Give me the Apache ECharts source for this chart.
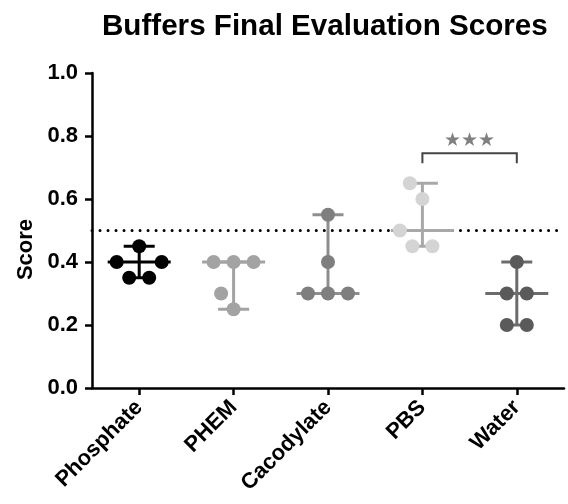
<!DOCTYPE html>
<html>
<head>
<meta charset="utf-8">
<script src="https://cdn.jsdelivr.net/npm/echarts@6/dist/echarts.min.js"></script>
<style>
html,body{margin:0;padding:0;background:#fff;}
#chart{width:568px;height:504px;}
</style>
</head>
<body>
<div id="chart"></div>
<script>
// ---------- data ----------
const categories = ['Phosphate', 'PHEM', 'Cacodylate', 'PBS', 'Water'];
const phosphate  = [0.45, 0.40, 0.40, 0.35, 0.35];
const phem       = [0.40, 0.40, 0.40, 0.30, 0.25];
const cacodylate = [0.55, 0.40, 0.30, 0.30, 0.30];
const pbs        = [0.65, 0.60, 0.50, 0.45, 0.45];
const water      = [0.40, 0.30, 0.30, 0.20, 0.20];
const yTickLabels = ['0.0', '0.2', '0.4', '0.6', '0.8', '1.0'];
const thresholdValue = 0.5;
const sigFrom = 'PBS';
const sigTo = 'Water';
const sigLevel = 0.745;
const sigLabel = '★★★';

// ---------- styles ----------
const groups = [phosphate, phem, cacodylate, pbs, water];
const dotColors  = ['#000000', '#a3a3a3', '#7f7f7f', '#d4d4d4', '#5a5a5a'];
const lineColors = ['#000000', '#a3a3a3', '#8e8e8e', '#a8a8a8', '#6c6c6c'];
const W = 568, H = 504;
const G = {left: 92, right: 4, top: 73, bottom: 116};
const plotW = W - G.left - G.right;
const plotH = H - G.top - G.bottom;
const yMin = 0, yMax = 1;
const pxPerCat = plotW / categories.length;
const pxPerVal = plotH / (yMax - yMin);
const FONT = '"Liberation Sans", Arial, sans-serif';

// ---------- simple beeswarm layout (pixel based, converted to category units) ----------
function swarm(vals) {
  const D = 20, ROW = 20;
  const placed = [];
  const rows = {};
  vals.forEach(v => { const k = v.toFixed(4); (rows[k] = rows[k] || []).push(v); });
  const keys = Object.keys(rows).sort((a, b) => parseFloat(a) - parseFloat(b));
  const ok = (xs, v) => xs.every(x => placed.every(p => {
    const dx = x - p.x, dy = (v - p.v) * pxPerVal;
    return Math.sqrt(dx * dx + dy * dy) >= D - 1e-6;
  }));
  const out = [];
  keys.forEach(k => {
    const row = rows[k], v = row[0], n = row.length;
    let xs;
    if (n === 1) {
      for (let s = 0; s < 80; s += 0.5) {
        if (ok([-s], v)) { xs = [-s]; break; }
        if (ok([s], v)) { xs = [s]; break; }
      }
    } else {
      for (let g = ROW; g < 120; g += 0.5) {
        const c = row.map((_, i) => (i - (n - 1) / 2) * g);
        if (ok(c, v)) { xs = c; break; }
      }
    }
    xs.forEach(x => { placed.push({x, v}); out.push([x / pxPerCat, v]); });
  });
  return out;
}

function median(a) {
  const s = a.slice().sort((x, y) => x - y);
  const m = Math.floor(s.length / 2);
  return s.length % 2 ? s[m] : (s[m - 1] + s[m]) / 2;
}

const series = [];

// error bars: median with range
series.push({
  type: 'custom',
  xAxisIndex: 1,
  z: 2,
  silent: true,
  data: groups.map((g, i) => [i, Math.min(...g), median(g), Math.max(...g)]),
  renderItem: function (params, api) {
    const i = api.value(0);
    const lo = api.coord([i, api.value(1)]);
    const md = api.coord([i, api.value(2)]);
    const hi = api.coord([i, api.value(3)]);
    const style = {stroke: lineColors[i], lineWidth: 3, fill: null};
    const cap = 15.5, mw = 31.5;
    return {
      type: 'group',
      children: [
        {type: 'line', shape: {x1: hi[0], y1: hi[1], x2: lo[0], y2: lo[1]}, style},
        {type: 'line', shape: {x1: hi[0] - cap, y1: hi[1], x2: hi[0] + cap, y2: hi[1]}, style},
        {type: 'line', shape: {x1: lo[0] - cap, y1: lo[1], x2: lo[0] + cap, y2: lo[1]}, style},
        {type: 'line', shape: {x1: md[0] - mw, y1: md[1], x2: md[0] + mw, y2: md[1]}, style}
      ]
    };
  }
});

// points
groups.forEach((g, i) => {
  const s = {
    type: 'scatter',
    name: categories[i],
    xAxisIndex: 1,
    z: 3,
    symbol: 'circle',
    symbolSize: 14,
    itemStyle: {color: dotColors[i], opacity: 1},
    data: swarm(g).map(p => [i + p[0], p[1]])
  };
  if (i === 0) {
    s.markLine = {
      silent: true,
      symbol: ['none', 'none'],
      label: {show: false},
      z: 1,
      lineStyle: {color: '#000', width: 3, type: [0.01, 8], cap: 'round'},
      data: [{yAxis: thresholdValue}]
    };
  }
  series.push(s);
});

// significance bracket
series.push({
  type: 'custom',
  xAxisIndex: 1,
  z: 4,
  silent: true,
  data: [[categories.indexOf(sigFrom), categories.indexOf(sigTo), sigLevel]],
  renderItem: function (params, api) {
    const a = api.coord([api.value(0), api.value(2)]);
    const b = api.coord([api.value(1), api.value(2)]);
    const leg = 10;
    const style = {stroke: '#444', lineWidth: 2, fill: null};
    return {
      type: 'group',
      children: [
        {type: 'polyline', shape: {points: [[a[0], a[1] + leg], [a[0], a[1]], [b[0], b[1]], [b[0], b[1] + leg]]}, style},
        {type: 'text', style: {text: sigLabel, x: (a[0] + b[0]) / 2, y: a[1] - 3, align: 'center', verticalAlign: 'bottom',
          fill: '#808080', font: '19px "DejaVu Sans", sans-serif'}}
      ]
    };
  }
});

const chart = echarts.init(document.getElementById('chart'), null, {renderer: 'canvas'});
chart.setOption({
  backgroundColor: '#ffffff',
  animation: false,
  title: {
    text: 'Buffers Final Evaluation Scores',
    left: 102,
    top: 12,
    padding: 0,
    textStyle: {fontFamily: FONT, fontWeight: 'bold', fontSize: 29.6, color: '#000'}
  },
  grid: {left: G.left, right: G.right, top: G.top, bottom: G.bottom, containLabel: false},
  xAxis: [
    {
      type: 'category',
      data: categories,
      boundaryGap: true,
      axisLine: {show: true, onZero: false, lineStyle: {color: '#000', width: 2.5}},
      axisTick: {show: true, alignWithLabel: true, length: 7, lineStyle: {color: '#000', width: 2.5}},
      axisLabel: {rotate: 45, margin: 16, fontFamily: FONT, fontWeight: 'bold', fontSize: 22, color: '#000'},
      splitLine: {show: false}
    },
    {
      type: 'value',
      min: -0.5,
      max: categories.length - 0.5,
      show: false,
      splitLine: {show: false}
    }
  ],
  yAxis: {
    type: 'value',
    min: yMin,
    max: yMax,
    interval: 0.2,
    name: 'Score',
    nameLocation: 'middle',
    nameGap: 55,
    nameTextStyle: {fontFamily: FONT, fontWeight: 'bold', fontSize: 22, color: '#000', padding: [0, 38, 0, 0]},
    axisLine: {show: true, onZero: false, lineStyle: {color: '#000', width: 2.5}},
    axisTick: {show: true, length: 7, lineStyle: {color: '#000', width: 2.5}},
    axisLabel: {
      margin: 14, fontFamily: FONT, fontWeight: 'bold', fontSize: 22, color: '#000',
      formatter: function (v) { return yTickLabels[Math.round((v - yMin) / 0.2)]; }
    },
    splitLine: {show: false}
  },
  series: series
});
</script>
</body>
</html>
